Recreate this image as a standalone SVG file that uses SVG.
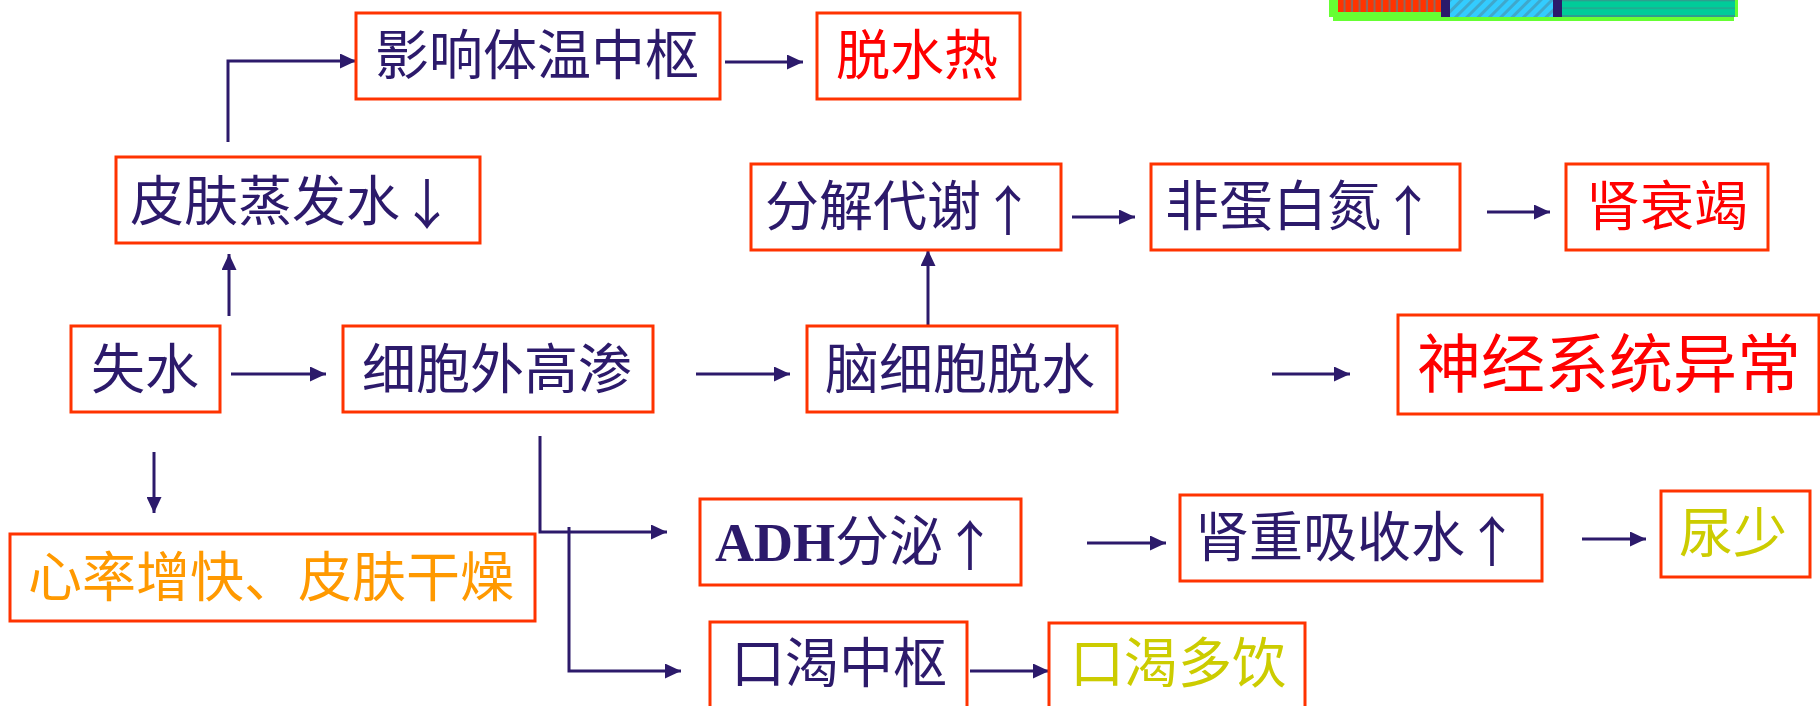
<svg xmlns="http://www.w3.org/2000/svg" width="1820" height="706" viewBox="0 0 1820 706">
<defs>
<style>
.box{fill:#FFFFFF;stroke:#FF3300;stroke-width:3}
.t{font-family:"Liberation Serif","Noto Sans CJK SC",serif;font-size:54px;fill:#2C1A6B;text-anchor:middle}
.s{text-anchor:start}
.arr{font-family:"Noto Sans CJK SC",sans-serif;font-weight:normal}
.red{fill:#FF0000}
.orange{fill:#FF9900}
.yellow{fill:#CCCC00}
.big{font-size:64px}
.c{fill:none;stroke:#2C1A6B;stroke-width:3}
</style>
<marker id="ah" markerUnits="userSpaceOnUse" markerWidth="16" markerHeight="15" refX="16" refY="7.5" orient="auto">
<path d="M0,0 L16,7.5 L0,15 z" fill="#2C1A6B"/>
</marker>
<pattern id="pRed" patternUnits="userSpaceOnUse" width="7.5" height="12" x="1338" y="0">
<rect width="7.5" height="12" fill="#FF3300"/>
<rect x="5.5" width="2" height="12" fill="#8C6A60"/>
</pattern>
<pattern id="pCyan" patternUnits="userSpaceOnUse" width="8" height="8" patternTransform="rotate(45)">
<rect width="8" height="8" fill="#33CCFF"/>
<rect width="3" height="8" fill="#3FA8CC"/>
</pattern>
<pattern id="pTeal" patternUnits="userSpaceOnUse" width="10" height="7.5" x="0" y="0">
<rect width="10" height="7.5" fill="#00CC99"/>
<rect y="0" width="10" height="1.3" fill="#2E9E8E"/>
</pattern>
</defs>

<g id="decor">
<rect x="1333" y="0" width="401" height="21" fill="#66FF33"/>
<rect x="1329" y="0" width="409" height="17" fill="#66FF33"/>
<rect x="1338" y="0" width="103" height="12" fill="url(#pRed)"/>
<rect x="1441" y="0" width="9" height="17" fill="#2C1A6B"/>
<rect x="1450" y="0" width="103" height="17" fill="url(#pCyan)"/>
<rect x="1553" y="0" width="9" height="17" fill="#2C1A6B"/>
<rect x="1562" y="0" width="173" height="17" fill="url(#pTeal)"/>
<rect x="1562" y="15" width="173" height="2" fill="#2E9E8E"/>
</g>

<g id="connectors">
<path class="c" d="M229,316 V254" marker-end="url(#ah)"/>
<path class="c" d="M228,142 V61 H356" marker-end="url(#ah)"/>
<path class="c" d="M725,62 H803" marker-end="url(#ah)"/>
<path class="c" d="M231,374 H326" marker-end="url(#ah)"/>
<path class="c" d="M154,452 V513" marker-end="url(#ah)"/>
<path class="c" d="M540,436 V532 H667" marker-end="url(#ah)"/>
<path class="c" d="M569,527 V671 H681" marker-end="url(#ah)"/>
<path class="c" d="M696,374 H790" marker-end="url(#ah)"/>
<path class="c" d="M928,327 V250" marker-end="url(#ah)"/>
<path class="c" d="M1072,217 H1135" marker-end="url(#ah)"/>
<path class="c" d="M1487,212 H1550" marker-end="url(#ah)"/>
<path class="c" d="M1272,374 H1350" marker-end="url(#ah)"/>
<path class="c" d="M1087,543 H1166" marker-end="url(#ah)"/>
<path class="c" d="M1582,539 H1646" marker-end="url(#ah)"/>
<path class="c" d="M970,671 H1049" marker-end="url(#ah)"/>
</g>

<g id="n_yingxiang"><rect class="box" x="356" y="13" width="364" height="86"/><text class="t" x="537" y="75">影响体温中枢</text></g>
<g id="n_tuoshuire"><rect class="box" x="817" y="13" width="203" height="86"/><text class="t red" x="917" y="75">脱水热</text></g>
<g id="n_pifu"><rect class="box" x="116" y="157" width="364" height="86"/><text class="t s" x="130" y="221">皮肤蒸发水<tspan class="arr" dy="4">↓</tspan></text></g>
<g id="n_fenjie"><rect class="box" x="751" y="164" width="310" height="86"/><text class="t s" x="765" y="226">分解代谢<tspan class="arr" dy="5">↑</tspan></text></g>
<g id="n_feidanbai"><rect class="box" x="1151" y="164" width="309" height="86"/><text class="t s" x="1165" y="226">非蛋白氮<tspan class="arr" dy="5">↑</tspan></text></g>
<g id="n_shenshuai"><rect class="box" x="1566" y="164" width="202" height="86"/><text class="t red" x="1667" y="226">肾衰竭</text></g>
<g id="n_shishui"><rect class="box" x="71" y="326" width="149" height="86"/><text class="t" x="145" y="389">失水</text></g>
<g id="n_xibaowai"><rect class="box" x="343" y="326" width="310" height="86"/><text class="t" x="497" y="389">细胞外高渗</text></g>
<g id="n_naoxibao"><rect class="box" x="807" y="326" width="310" height="86"/><text class="t" x="960" y="389">脑细胞脱水</text></g>
<g id="n_shenjing"><rect class="box" x="1398" y="315" width="421" height="99"/><text class="t red big" x="1609" y="387">神经系统异常</text></g>
<g id="n_xinlv"><rect class="box" x="10" y="534" width="525" height="87"/><text class="t orange" x="271" y="597">心率增快、皮肤干燥</text></g>
<g id="n_adh"><rect class="box" x="700" y="499" width="321" height="86"/><text class="t s" x="715" y="561"><tspan font-weight="bold">ADH</tspan>分泌<tspan class="arr" dy="5">↑</tspan></text></g>
<g id="n_shenchong"><rect class="box" x="1180" y="495" width="362" height="86"/><text class="t s" x="1195" y="557">肾重吸收水<tspan class="arr" dy="5">↑</tspan></text></g>
<g id="n_niaoshao"><rect class="box" x="1661" y="491" width="149" height="86"/><text class="t yellow" x="1733" y="553">尿少</text></g>
<g id="n_kouke"><rect class="box" x="710" y="622" width="257" height="88"/><text class="t" x="839" y="683">口渴中枢</text></g>
<g id="n_koukeduoyin"><rect class="box" x="1049" y="623" width="256" height="88"/><text class="t yellow" x="1178" y="683">口渴多饮</text></g>
</svg>
